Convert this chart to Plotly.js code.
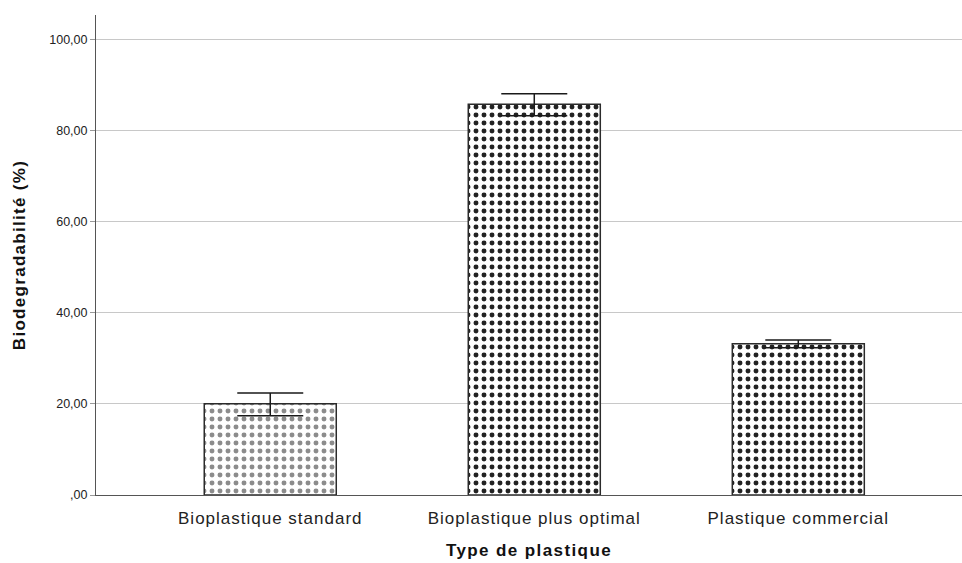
<!DOCTYPE html>
<html><head><meta charset="utf-8">
<script src="https://cdn.plot.ly/plotly-3.0.1.min.js"></script>
<style>
html,body{margin:0;padding:0;background:#fff}
#chart{width:962px;height:563px}
#chart .xtick text{letter-spacing:1px}
#chart .g-xtitle text{letter-spacing:1.4px}
#chart .g-ytitle text{letter-spacing:1.3px}
</style>
</head><body><div id="chart"></div>
<script>
const categories = ["Bioplastique standard", "Bioplastique plus optimal", "Plastique commercial"];
const means = [20.0, 85.7, 33.2];
const errPlus = [2.4, 2.3, 0.8];
const errMinus = [2.6, 2.5, 0.9];
const patternColors = ["#8c8c8c", "#222222", "#222222"];
const yTickVals = [0, 20, 40, 60, 80, 100];
const yTickText = [",00", "20,00", "40,00", "60,00", "80,00", "100,00"];

const trace = {
  type: "bar",
  x: [0, 1, 2],
  y: means,
  width: 0.5,
  marker: {
    color: "#ffffff",
    line: {color: "#2b2b2b", width: 1.5},
    pattern: {shape: ".", fgcolor: patternColors, fgopacity: 1, bgcolor: "#ffffff", size: 8, solidity: 0.3, fillmode: "overlay"}
  },
  error_y: {type: "data", symmetric: false, array: errPlus, arrayminus: errMinus, color: "#1a1a1a", thickness: 1.5, width: 33},
  hoverinfo: "none"
};

const layout = {
  width: 962, height: 563,
  margin: {l: 96, r: 0, t: 15, b: 68},
  paper_bgcolor: "#ffffff", plot_bgcolor: "#ffffff",
  showlegend: false,
  font: {family: "Liberation Sans, Arial, sans-serif", color: "#222"},
  xaxis: {
    range: [-0.66, 2.62],
    tickvals: [0, 1, 2], ticktext: categories,
    tickfont: {size: 17, color: "#222"},
    showgrid: false, zeroline: false,
    showline: true, linecolor: "#555", linewidth: 1,
    ticks: "", ticklen: 0, ticklabelstandoff: 8,
    title: {text: "<b>Type de plastique</b>", font: {size: 17, color: "#111"}, standoff: 16}
  },
  yaxis: {
    range: [0, 105.3],
    tickvals: yTickVals, ticktext: yTickText,
    tickfont: {size: 12.5, color: "#222"},
    showgrid: true, gridcolor: "#c8c8c8", gridwidth: 1,
    zeroline: false,
    showline: true, linecolor: "#555", linewidth: 1,
    ticks: "outside", ticklen: 5, tickcolor: "#999",
    title: {text: "<b>Biodegradabilité (%)</b>", font: {size: 17, color: "#111"}, standoff: 19}
  }
};

Plotly.newPlot("chart", [trace], layout, {staticPlot: true, displayModeBar: false});
</script></body></html>
